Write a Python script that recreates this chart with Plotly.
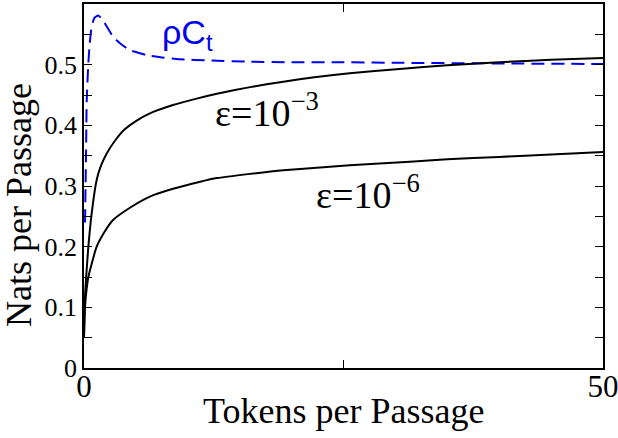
import plotly.graph_objects as go

# ---- data ----
eps3_x = [0, 0.05, 0.19, 0.42, 0.74, 1.22, 1.6, 2.2, 3.0, 3.9, 5.0, 6.4, 8.5, 10.85, 12.8, 16, 19.2, 22, 25.6, 30.4, 35, 40, 45, 50]
eps3_y = [0.05, 0.10, 0.145, 0.20, 0.255, 0.31, 0.332, 0.354, 0.375, 0.393, 0.407, 0.420, 0.433, 0.444, 0.452, 0.463, 0.472, 0.479, 0.486, 0.493, 0.499, 0.504, 0.508, 0.511]

eps6_x = [0, 0.1, 0.2, 0.42, 1.22, 2.0, 2.8, 4.5, 6.4, 8.5, 11.2, 12.8, 16, 19.2, 25.6, 31.4, 35, 40, 45, 50]
eps6_y = [0.05, 0.101, 0.122, 0.15, 0.20, 0.225, 0.244, 0.265, 0.283, 0.295, 0.307, 0.313, 0.320, 0.326, 0.334, 0.340, 0.344, 0.348, 0.352, 0.356]

rho_x = [0.1, 0.2, 0.26, 0.41, 0.55, 0.74, 1.0, 1.38, 1.9, 2.8, 3.5, 4.4, 6.0, 7.5, 9.2, 12, 16, 20, 25, 30.7, 40, 50]
rho_y = [0.24, 0.36, 0.44, 0.50, 0.535, 0.563, 0.577, 0.581, 0.571, 0.546, 0.535, 0.524, 0.516, 0.512, 0.509, 0.507, 0.505, 0.504, 0.504, 0.503, 0.502, 0.501]

y_tickvals = [0, 0.1, 0.2, 0.3, 0.4, 0.5]
y_ticktext = ["0", "0.1", "0.2", "0.3", "0.4", "0.5"]
y_minor = [0.05, 0.15, 0.25, 0.35, 0.45, 0.55]
x_tickvals = [0, 50]
x_ticktext = ["0", "50"]
x_minor = [25]

x_title = "Tokens per Passage"
y_title = "Nats per Passage"

SERIF = "Liberation Serif, Times New Roman, serif"
SANS = "Liberation Sans, Arial, sans-serif"
BLUE = "#0000ee"

fig = go.Figure()
fig.add_trace(go.Scatter(x=rho_x, y=rho_y, mode="lines", line=dict(color=BLUE, width=2, dash="13px,7px", shape="spline", smoothing=0.5), showlegend=False))
fig.add_trace(go.Scatter(x=eps3_x, y=eps3_y, mode="lines", line=dict(color="black", width=2, shape="spline", smoothing=0.5), showlegend=False))
fig.add_trace(go.Scatter(x=eps6_x, y=eps6_y, mode="lines", line=dict(color="black", width=2, shape="spline", smoothing=0.5), showlegend=False))

fig.add_annotation(x=7.3, y=0.549, xref="x", yref="y", xanchor="left", yanchor="middle", showarrow=False,
                   text="ρC<sub>t</sub>", font=dict(family=SANS, size=34, color=BLUE))
fig.add_annotation(x=12.4, y=0.425, xref="x", yref="y", xanchor="left", yanchor="middle", showarrow=False,
                   text="ε=10<sup>−3</sup>", font=dict(family=SERIF, size=38, color="black"))
fig.add_annotation(x=22.2, y=0.29, xref="x", yref="y", xanchor="left", yanchor="middle", showarrow=False,
                   text="ε=10<sup>−6</sup>", font=dict(family=SERIF, size=38, color="black"))

# axis titles
fig.add_annotation(x=0.5, y=-0.118, xref="paper", yref="paper", xanchor="center", yanchor="middle", showarrow=False,
                   text=x_title, font=dict(family=SERIF, size=36, color="black"))
fig.add_annotation(x=-0.125, y=0.448, xref="paper", yref="paper", xanchor="center", yanchor="middle", showarrow=False,
                   text=y_title, textangle=-90, font=dict(family=SERIF, size=36, color="black"))

axis_common = dict(ticks="inside", ticklen=8, tickcolor="black", tickwidth=1, showline=True,
                   linecolor="black", linewidth=1.5, mirror="ticks", showgrid=False, zeroline=False,
                   automargin=False, ticklabeloverflow="allow")

fig.update_layout(
    width=618, height=438,
    margin=dict(l=84, r=15, t=4, b=70),
    paper_bgcolor="white", plot_bgcolor="white",
    font=dict(family=SERIF, color="black"),
    xaxis=dict(range=[0, 50], tickvals=x_tickvals, ticktext=x_ticktext, ticklabelstandoff=-10,
               minor=dict(tickvals=x_minor, ticks="inside", ticklen=8, tickcolor="black", tickwidth=1, showgrid=False),
               tickfont=dict(size=31, family=SERIF), **axis_common),
    yaxis=dict(range=[0, 0.6], tickvals=y_tickvals, ticktext=y_ticktext,
               minor=dict(tickvals=y_minor, ticks="inside", ticklen=8, tickcolor="black", tickwidth=1, showgrid=False),
               tickfont=dict(size=26, family=SERIF), **axis_common),
)

fig.write_html("out.html", config={"displayModeBar": False},
               post_script="document.body.style.margin='0';document.body.style.padding='0';")
